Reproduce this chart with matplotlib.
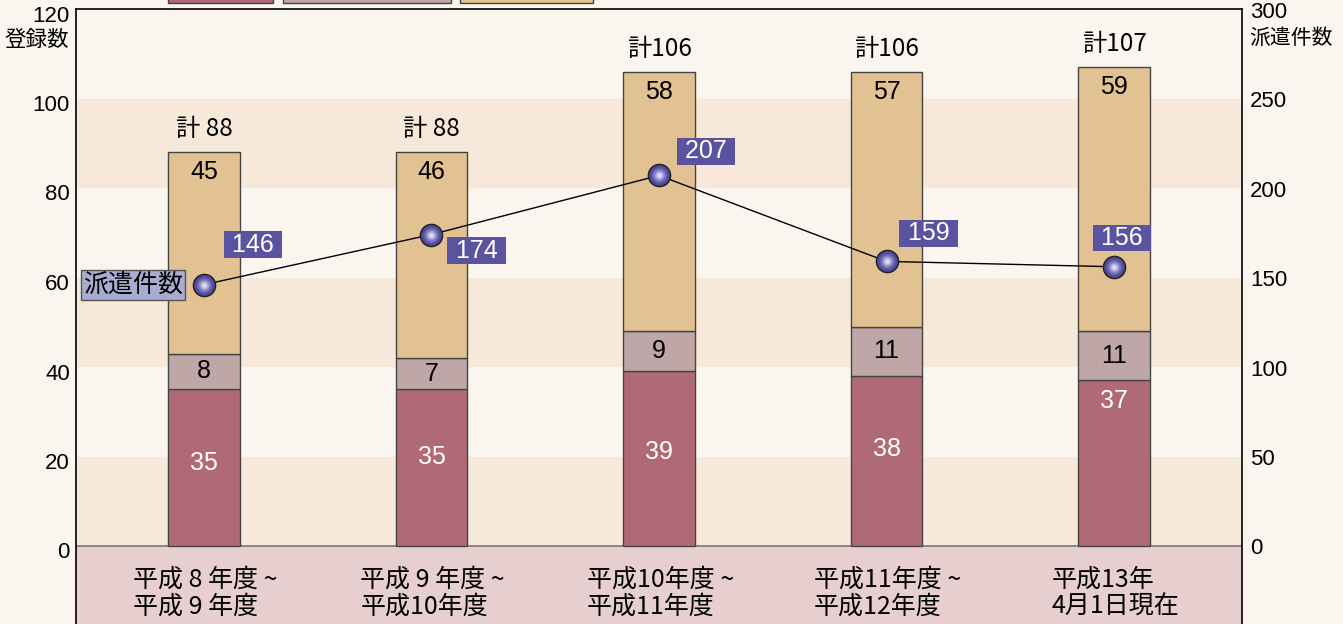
import numpy as np
import matplotlib.pyplot as plt
from matplotlib.patches import Rectangle
from matplotlib.colors import to_rgb

plt.rcParams['font.family'] = ['Noto Sans CJK JP', 'DejaVu Sans']
NUM = ['Liberation Sans', 'DejaVu Sans']

# data
categories = ['平成 8 年度 ~\n平成 9 年度', '平成 9 年度 ~\n平成10年度', '平成10年度 ~\n平成11年度',
              '平成11年度 ~\n平成12年度', '平成13年\n4月1日現在']
bottom_vals = [35, 35, 39, 38, 37]
middle_vals = [8, 7, 9, 11, 11]
top_vals = [45, 46, 58, 57, 59]
totals = ['計 88', '計 88', '計106', '計106', '計107']
dispatch = [146, 174, 207, 159, 156]
left_ticks = [0, 20, 40, 60, 80, 100, 120]
right_ticks = [0, 50, 100, 150, 200, 250, 300]

# layout / style
bottom_label_y = [18.5, 19.9, 21.0, 21.7, 32.4]
disp_offsets = [(49, 40), (45, -16), (47, 24), (42, 28), (8, 29)]  # px
c_bottom = '#b06a76'
c_middle = '#bfa7a7'
c_top = '#e2c192'
c_bg = '#faf6ef'
c_band = '#f6e9d9'
c_cat = '#e8cfcf'
c_box = '#5b52a0'
px = 0.72  # points per pixel

fig = plt.figure(figsize=(13.43, 6.24), dpi=100, facecolor=c_bg)
ax = fig.add_axes([76 / 1343, 0, 1166 / 1343, 615 / 624])
ax.set_facecolor(c_bg)
ymin = -78 / 4.475
ax.set_ylim(ymin, 120)
ax.set_xlim(-0.5626, 4.5626)

for lo in (0, 40, 80):
    ax.axhspan(lo, lo + 20, color=c_band, zorder=0, lw=0)
ax.axhspan(ymin, 0, color=c_cat, zorder=0, lw=0)
ax.axhline(0, color='#777777', lw=1.2, zorder=1)

x = np.arange(len(categories))
w = 0.316
b1 = np.array(bottom_vals)
b2 = b1 + np.array(middle_vals)
b3 = b2 + np.array(top_vals)
ax.bar(x, bottom_vals, w, color=c_bottom, edgecolor='#444444', lw=1, zorder=2)
ax.bar(x, middle_vals, w, bottom=b1, color=c_middle, edgecolor='#444444', lw=1, zorder=2)
ax.bar(x, top_vals, w, bottom=b2, color=c_top, edgecolor='#444444', lw=1, zorder=2)

for i in range(len(x)):
    ax.text(x[i], bottom_label_y[i], str(bottom_vals[i]), ha='center', va='center',
            color='white', fontsize=18, family=NUM, zorder=3)
    ax.text(x[i], b1[i] + middle_vals[i] / 2, str(middle_vals[i]), ha='center', va='center',
            fontsize=18, family=NUM, zorder=3)
    ax.annotate(str(top_vals[i]), (x[i], b3[i]), xytext=(0, -20 * px), textcoords='offset points',
                ha='center', va='center', fontsize=18, family=NUM, zorder=3)
    ax.annotate(totals[i], (x[i], b3[i]), xytext=(0, 23 * px), textcoords='offset points',
                ha='center', va='center', fontsize=17.5, zorder=3)
    ax.text(x[i] + 0.005, -10.5, categories[i], ha='center', va='center', multialignment='left',
            fontsize=18, linespacing=1.05, zorder=3)

ax.set_yticks([])
ax.set_xticks([])
for s in ax.spines.values():
    s.set_color('black')
    s.set_linewidth(1.2)
ax.spines['bottom'].set_visible(False)

ax2 = ax.twinx()
ax2.set_ylim(ymin * 2.5, 300)
ax2.set_yticks([])
for s in ax2.spines.values():
    s.set_visible(False)

ax2.plot(x, dispatch, color='black', lw=1, zorder=4)
# sphere-like markers
dark = np.array(to_rgb('#4a4398'))
light = np.array(to_rgb('#dcdaf4'))
ax2.plot(x, dispatch, 'o', ms=16, mfc='#4a4398', mec='#222222', mew=1, zorder=5, ls='none')
for k, s in enumerate(np.linspace(14, 3, 10)):
    t = ((k + 1) / 10) ** 1.6
    c = dark * (1 - t) + light * t
    ax2.plot(x, dispatch, 'o', ms=s, mfc=c, mec='none', zorder=6 + k, ls='none')

for i in range(len(x)):
    dx, dy = disp_offsets[i]
    ax2.annotate(' %d ' % dispatch[i], (x[i], dispatch[i]), xytext=(dx * px, dy * px),
                 textcoords='offset points', ha='center', va='center', fontsize=18, color='white',
                 family=NUM,
                 bbox=dict(boxstyle='square,pad=0.05', fc=c_box, ec='none'), zorder=20)

ax2.annotate('派遣件数', (x[0], dispatch[0]), xytext=(-71 * px, 0), textcoords='offset points',
             ha='center', va='center', fontsize=18,
             bbox=dict(boxstyle='square,pad=0.08', fc='#a9acd0', ec='#555555', lw=1), zorder=20)

# tick labels
for v in left_ticks:
    ax.annotate(str(v), (0, v), xycoords=('axes fraction', 'data'), xytext=(-6 * px, -7 * px),
                textcoords='offset points', ha='right', va='center', fontsize=16, family=NUM)
for v in right_ticks:
    ax2.annotate(str(v), (1, v), xycoords=('axes fraction', 'data'), xytext=(8 * px, -3 * px),
                 textcoords='offset points', ha='left', va='center', fontsize=16, family=NUM)
fig.text(69 / 1343, 1 - 40 / 624, '登録数', ha='right', va='center', fontsize=15.5)
fig.text(1249 / 1343, 1 - 38 / 624, '派遣件数', ha='left', va='center', fontsize=15)

# legend boxes cut off at top
for (l, r), c in zip([(168, 273), (283, 451), (460, 593)], [c_bottom, c_middle, c_top]):
    fig.patches.append(Rectangle((l / 1343, 1 - 3 / 624), (r - l) / 1343, 10 / 624,
                                 transform=fig.transFigure, fc=c, ec='#444444', lw=1))

fig.savefig('out.png', dpi=100, facecolor=c_bg)
